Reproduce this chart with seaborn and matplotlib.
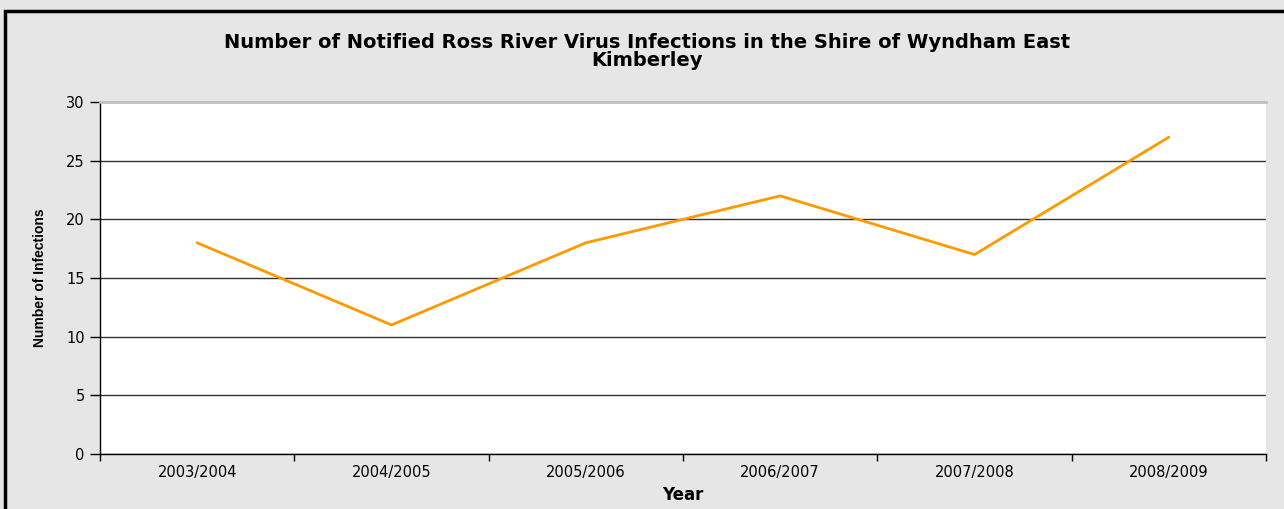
import numpy as np
import pandas as pd
import seaborn as sns
import matplotlib.pyplot as plt
from matplotlib.patches import Rectangle

# 데이터
years = ['2003/2004', '2004/2005', '2005/2006', '2006/2007', '2007/2008', '2008/2009']
infections = [18, 11, 18, 22, 17, 27]

df = pd.DataFrame({'Year': years, 'Infections': infections})

sns.set_style('white')
plt.rcParams['font.family'] = ['DejaVu Sans']
plt.rcParams['text.color'] = 'black'
plt.rcParams['axes.labelcolor'] = 'black'
plt.rcParams['xtick.color'] = 'black'
plt.rcParams['ytick.color'] = 'black'

fig = plt.figure(figsize=(12.84, 5.09), dpi=100)
fig.patch.set_facecolor('#e6e6e6')
ax = fig.add_axes([100 / 1284, 55 / 509, 1166 / 1284, 352 / 509])
ax.set_facecolor('white')

sns.lineplot(data=df, x='Year', y='Infections', sort=False, color='#ff9900',
             linewidth=2, ax=ax)

# y축
ax.set_ylim(0, 30)
ax.set_yticks(range(0, 31, 5))
ax.yaxis.grid(True, color='#333333', linewidth=1)
ax.set_axisbelow(True)
ax.tick_params(axis='y', direction='out', length=7, width=1, color='black',
               labelsize=10.5, pad=4, left=True)

# x축: 눈금은 범주 경계, 레이블은 범주 가운데
n = len(years)
ax.set_xlim(-0.5, n - 0.5)
ax.set_xticks(np.arange(n + 1) - 0.5)
ax.set_xticklabels([])
ax.set_xticks(np.arange(n), minor=True)
ax.set_xticklabels(years, minor=True)
ax.tick_params(axis='x', which='major', direction='out', length=5, width=1,
               color='black', bottom=True)
ax.tick_params(axis='x', which='minor', length=0, labelsize=10.5, pad=8)

for s in ['left', 'bottom']:
    ax.spines[s].set_color('black')
    ax.spines[s].set_linewidth(1)
ax.spines['top'].set_color('#c0c0c0')
ax.spines['top'].set_linewidth(2)
ax.spines['right'].set_visible(False)

ax.set_xlabel('Year', fontsize=12, fontweight='bold', labelpad=4)
ax.set_ylabel('Number of Infections', fontsize=10, fontweight='bold', labelpad=14,
              family='Liberation Sans')

title_kw = dict(ha='center', va='center', fontsize=14, fontweight='bold')
fig.text(647 / 1284, 1 - 42 / 509,
         'Number of Notified Ross River Virus Infections in the Shire of Wyndham East',
         **title_kw)
fig.text(647 / 1284, 1 - 60 / 509, 'Kimberley', **title_kw)

# 바깥 테두리
fig.patches.append(Rectangle((5 / 1284, -0.1), 1.2, 1 - 11 / 509 + 0.1,
                             transform=fig.transFigure, fill=False,
                             edgecolor='black', linewidth=2.5))

fig.savefig('out.png', dpi=100, facecolor=fig.get_facecolor())
